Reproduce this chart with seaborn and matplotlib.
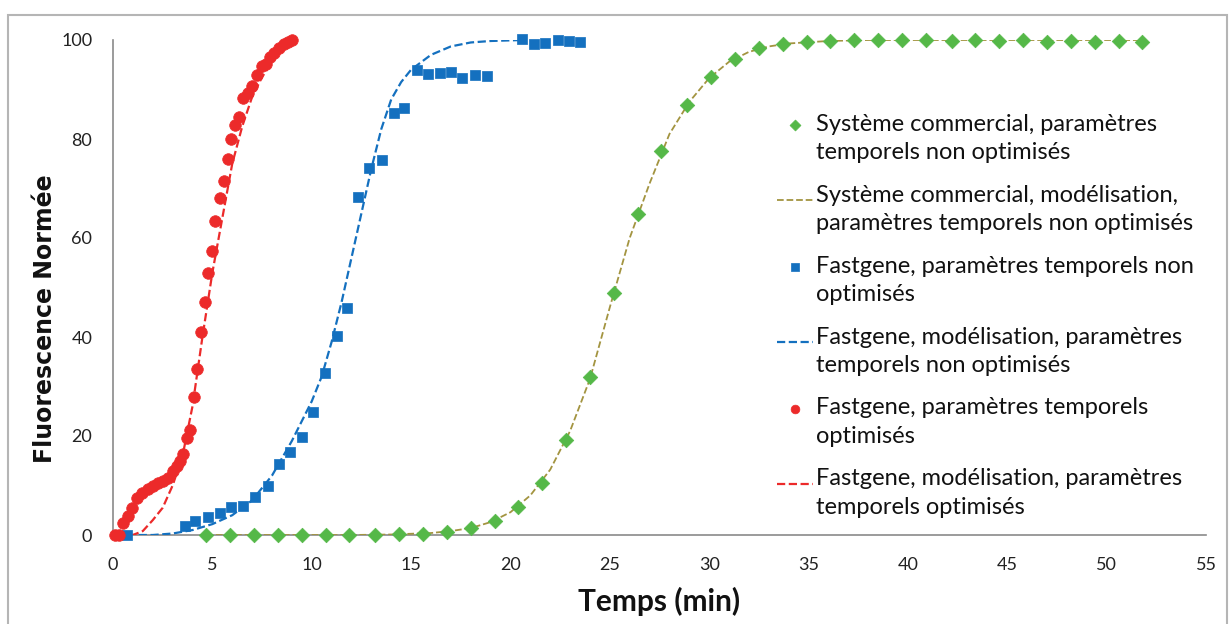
import pandas as pd
import matplotlib
matplotlib.use('Agg')
import matplotlib.pyplot as plt
from matplotlib.patches import Rectangle
import seaborn as sns

# Système commercial, points mesurés
green_x = [4.7, 5.9, 7.1, 8.3, 9.5, 10.7, 11.9, 13.2, 14.4, 15.6, 16.8, 18.0, 19.2, 20.4,
           21.6, 22.8, 24.0, 25.2, 26.4, 27.6, 28.9, 30.1, 31.3, 32.5, 33.7, 34.9, 36.1,
           37.3, 38.5, 39.7, 40.9, 42.2, 43.4, 44.6, 45.8, 47.0, 48.2, 49.4, 50.6, 51.8]
green_y = [0, 0, 0, 0, 0, 0, 0, 0.1, 0.2, 0.3, 0.6, 1.5, 2.8, 5.6, 10.5, 19.2, 32, 48.8,
           64.8, 77.6, 86.8, 92.6, 96.2, 98.4, 99.2, 99.6, 99.8, 100, 100, 99.9, 100, 99.8,
           100, 99.7, 99.9, 99.6, 99.8, 99.5, 99.7, 99.5]
# Système commercial, modélisation
gfit_x = [4.7, 8, 12, 14, 16, 17, 18, 19, 20, 21, 22, 23, 24, 25, 26, 27, 28, 29, 30, 31,
          32, 33, 34, 36, 38, 42, 46, 52]
gfit_y = [0, 0, 0, 0.1, 0.4, 0.8, 1.4, 2.6, 4.6, 8.0, 13.2, 21, 31.5, 46, 60, 71, 81, 87.5,
          92.3, 95.6, 97.6, 98.7, 99.3, 99.8, 100, 100, 100, 100]

# Fastgene non optimisé
blue_x = [0.7, 3.6, 4.15, 4.8, 5.4, 5.95, 6.55, 7.15, 7.8, 8.35, 8.9, 9.5, 10.05, 10.65,
          11.25, 11.8, 12.35, 12.9, 13.55, 14.15, 14.65, 15.3, 15.85, 16.45, 17.0, 17.55,
          18.2, 18.8, 20.6, 21.2, 21.75, 22.4, 22.95, 23.5]
blue_y = [0, 1.8, 2.8, 3.6, 4.4, 5.6, 5.8, 7.6, 10.0, 14.4, 16.8, 19.8, 24.9, 32.8, 40.3,
          45.9, 68.3, 74.1, 75.8, 85.3, 86.3, 93.9, 93.2, 93.3, 93.5, 92.4, 93.0, 92.8,
          100.2, 99.1, 99.3, 100.0, 99.7, 99.5]
bfit_x = [0.7, 2, 3, 4, 5, 6, 7, 8, 9, 10, 10.5, 11, 11.5, 12, 12.5, 13, 13.5, 14, 14.5,
          15, 16, 17, 18, 19, 20.6]
bfit_y = [0, 0, 0.3, 1, 2.2, 4, 7, 12, 19, 27, 32, 39, 47, 56, 65, 74, 82, 88, 91.5, 94,
          97, 98.7, 99.5, 99.8, 100]

# Fastgene optimisé
red_x = [0.1, 0.3, 0.5, 0.75, 0.95, 1.2, 1.45, 1.75, 2.0, 2.25, 2.5, 2.75, 3.0, 3.2, 3.35,
         3.5, 3.7, 3.85, 4.1, 4.25, 4.45, 4.62, 4.8, 4.97, 5.15, 5.4, 5.6, 5.78, 5.95, 6.15,
         6.35, 6.55, 6.8, 7.0, 7.25, 7.5, 7.7, 7.9, 8.1, 8.35, 8.6, 8.8, 9.0]
red_y = [0, 0, 2.5, 3.8, 5.5, 7.5, 8.5, 9.2, 9.9, 10.6, 10.9, 11.6, 13.0, 14.0, 15.0, 16.3,
         19.5, 21.2, 27.8, 33.5, 41.0, 47.0, 53.0, 57.4, 63.5, 68.0, 71.6, 75.9, 80.0, 82.9,
         84.5, 88.2, 89.2, 90.8, 93.0, 94.8, 95.2, 96.5, 97.3, 98.3, 99.2, 99.6, 100]
rfit_x = [0.3, 1.0, 1.5, 2.0, 2.5, 3.0, 3.5, 4.0, 4.5, 5.0, 5.5, 6.0, 6.5, 7.0, 7.5, 8.0,
          8.5, 9.0]
rfit_y = [0, 0, 0.8, 3, 5.5, 10, 16, 26, 40, 53, 64, 75, 82.5, 88.5, 92.5, 95.5, 98, 100]

labels = ['Système commercial, paramètres\ntemporels non optimisés',
          'Système commercial, modélisation,\nparamètres temporels non optimisés',
          'Fastgene, paramètres temporels non\noptimisés',
          'Fastgene, modélisation, paramètres\ntemporels non optimisés',
          'Fastgene, paramètres temporels\noptimisés',
          'Fastgene, modélisation, paramètres\ntemporels optimisés']

c_green = '#55b848'
c_olive = '#a39440'
c_blue = '#1470bf'
c_red = '#ec2a2a'

sns.set_style('white')
plt.rcParams['font.family'] = ['Lato', 'DejaVu Sans']

fig = plt.figure(figsize=(12.32, 6.24), dpi=100)
ax = fig.add_axes([113/1232, 89/624, 1093/1232, 495/624])

sns.scatterplot(x=green_x, y=green_y, ax=ax, marker='D', s=55, color=c_green,
                edgecolor=c_green, linewidth=0.5, label=labels[0], clip_on=False, zorder=4)
sns.lineplot(x=gfit_x, y=gfit_y, ax=ax, color=c_olive, linestyle='--', linewidth=1.3,
             label=labels[1], zorder=3)
sns.scatterplot(x=blue_x, y=blue_y, ax=ax, marker='s', s=55, color=c_blue,
                edgecolor=c_blue, linewidth=0.5, label=labels[2], clip_on=False, zorder=4)
sns.lineplot(x=bfit_x, y=bfit_y, ax=ax, color=c_blue, linestyle='--', linewidth=1.6,
             label=labels[3], zorder=3)
sns.scatterplot(x=red_x, y=red_y, ax=ax, marker='o', s=70, color=c_red,
                edgecolor=c_red, linewidth=0.5, label=labels[4], clip_on=False, zorder=5)
sns.lineplot(x=rfit_x, y=rfit_y, ax=ax, color=c_red, linestyle='--', linewidth=1.6,
             label=labels[5], zorder=3)

ax.set_xlim(0, 55)
ax.set_ylim(0, 100)
ax.set_xticks(range(0, 56, 5))
ax.set_yticks(range(0, 101, 20))
sns.despine(ax=ax)
for s in ['left', 'bottom']:
    ax.spines[s].set_color('#8a8a8a')
    ax.spines[s].set_linewidth(1.2)
ax.tick_params(direction='out', length=6, width=1, color='#8a8a8a',
               labelsize=13, labelcolor='#222222')
ax.tick_params(axis='x', pad=10)
ax.tick_params(axis='y', pad=9)

ax.set_xlabel('Temps (min)', fontsize=21.5, fontweight='bold', color='#111111')
ax.set_ylabel('Fluorescence Normée', fontsize=17, fontweight='bold', color='#111111',
              family='DejaVu Sans')
ax.xaxis.set_label_coords(0.5, -0.135)
ax.yaxis.set_label_coords(-0.062, 0.438)
ax.xaxis.label.set_verticalalignment('center')
ax.yaxis.label.set_verticalalignment('center')

# handleheight relevé pour aligner les symboles sur la première ligne de chaque libellé
leg = ax.legend(loc='upper left', bbox_to_anchor=(0.599, 0.875), borderaxespad=0,
                frameon=False, fontsize=17, labelspacing=0.55, handlelength=1.5,
                handleheight=3.4, handletextpad=0.15, markerscale=0.75)
for t in leg.get_texts():
    t.set_color('#111111')
    t.set_linespacing(1.45)

fig.patches.append(Rectangle((8/1232, -0.05), 1219/1232, 1.05 - 15/624,
                             transform=fig.transFigure, fill=False,
                             edgecolor='#b5b5b5', linewidth=1.5))

fig.savefig('out.png', dpi=100)
